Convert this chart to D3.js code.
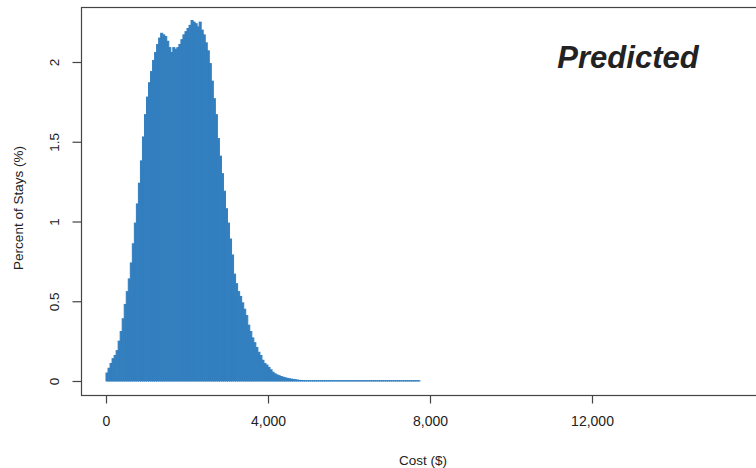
<!DOCTYPE html>
<html>
<head>
<meta charset="utf-8">
<script src="https://cdn.jsdelivr.net/npm/d3@7"></script>
<style>
  html, body { margin: 0; padding: 0; background: #fff; }
  text { font-family: "Liberation Sans", Arial, sans-serif; }
</style>
</head>
<body>
<svg id="chart" width="756" height="468"></svg>
<script>
// ---- data ----
const binWidth = 50; // $ per bin
const percentOfStays = [
  0.05, 0.08, 0.11, 0.14, 0.16, 0.19, 0.25, 0.31, 0.39, 0.48,
  0.56, 0.64, 0.74, 0.86, 0.99, 1.11, 1.24, 1.38, 1.53, 1.67,
  1.78, 1.87, 1.94, 2.01, 2.06, 2.11, 2.15, 2.18, 2.17, 2.16,
  2.13, 2.09, 2.06, 2.09, 2.08, 2.09, 2.11, 2.14, 2.17, 2.19,
  2.21, 2.23, 2.26, 2.25, 2.24, 2.22, 2.25, 2.20, 2.17, 2.12,
  2.07, 1.99, 1.88, 1.77, 1.67, 1.52, 1.41, 1.30, 1.19, 1.08,
  0.99, 0.89, 0.79, 0.67, 0.61, 0.56, 0.53, 0.49, 0.45, 0.41,
  0.35, 0.31, 0.27, 0.24, 0.21, 0.18, 0.16, 0.13, 0.11, 0.10,
  0.085, 0.07, 0.055, 0.045, 0.038, 0.033, 0.028, 0.024, 0.020, 0.017,
  0.014, 0.012, 0.010, 0.008, 0.006, 0.004, 0.003, 0.003, 0.002, 0.002,
  0.002, 0.002, 0.002, 0.002, 0.002, 0.002, 0.002, 0.002, 0.002, 0.002,
  0.002, 0.002, 0.002, 0.002, 0.002, 0.002, 0.002, 0.002, 0.002, 0.002,
  0.002, 0.002, 0.002, 0.002, 0.002, 0.002, 0.002, 0.002, 0.002, 0.002,
  0.002, 0.002, 0.002, 0.002, 0.002, 0.002, 0.002, 0.002, 0.002, 0.002,
  0.002, 0.002, 0.002, 0.002, 0.002, 0.002, 0.002, 0.002, 0.002, 0.002,
  0.002, 0.002, 0.002, 0.002, 0.002
];
const binStarts = d3.range(percentOfStays.length).map(i => i * binWidth);
const xTicks = [0, 4000, 8000, 12000];
const xTickLabels = ["0", "4,000", "8,000", "12,000"];
const yTicks = [0, 0.5, 1, 1.5, 2];
const yTickLabels = ["0", "0.5", "1", "1.5", "2"];
const title = "Predicted";
const xTitle = "Cost ($)";
const yTitle = "Percent of Stays (%)";

// ---- layout ----
const svg = d3.select("#chart");
const box = { left: 81.5, top: 7.5, right: 800, bottom: 395.5 };
const x = d3.scaleLinear().domain([0, 12000]).range([106, 592]);
const y = d3.scaleLinear().domain([0, 2]).range([381, 62]);
const barColor = "#337fbf";

// bars
svg.append("g").selectAll("rect")
  .data(percentOfStays)
  .join("rect")
  .attr("x", (d, i) => x(binStarts[i]))
  .attr("width", (d, i) => x(binStarts[i] + binWidth) - x(binStarts[i]))
  .attr("y", d => y(d))
  .attr("height", d => y(0) - y(d))
  .attr("fill", barColor)
  .attr("stroke", barColor)
  .attr("stroke-width", 1);

// box
svg.append("rect")
  .attr("x", box.left).attr("y", box.top)
  .attr("width", box.right - box.left).attr("height", box.bottom - box.top)
  .attr("fill", "none").attr("stroke", "#444").attr("stroke-width", 1.2);

// x axis
const xAxis = d3.axisBottom(x)
  .tickValues(xTicks)
  .tickFormat((d, i) => xTickLabels[i])
  .tickSizeInner(8).tickSizeOuter(0).tickPadding(13);
const gx = svg.append("g").attr("transform", `translate(0,${box.bottom})`).call(xAxis);
gx.select(".domain").remove();
gx.selectAll("line").attr("stroke", "#444").attr("stroke-width", 1.2);
gx.selectAll("text").attr("font-size", 14).attr("fill", "#222");

// y axis
const yAxis = d3.axisLeft(y)
  .tickValues(yTicks)
  .tickFormat((d, i) => yTickLabels[i])
  .tickSizeInner(9).tickSizeOuter(0);
const gy = svg.append("g").attr("transform", `translate(${box.left},0)`).call(yAxis);
gy.select(".domain").remove();
gy.selectAll("line").attr("stroke", "#444").attr("stroke-width", 1.2);
gy.selectAll("text")
  .attr("x", null).attr("dy", null)
  .attr("text-anchor", "middle")
  .attr("transform", "translate(-23,0) rotate(-90)")
  .attr("font-size", 13.5).attr("fill", "#222");

// axis titles
svg.append("text")
  .attr("x", 423).attr("y", 465)
  .attr("text-anchor", "middle")
  .attr("font-size", 13.5).attr("fill", "#222")
  .text(xTitle);
svg.append("text")
  .attr("transform", "translate(23,208) rotate(-90)")
  .attr("text-anchor", "middle")
  .attr("font-size", 13.5).attr("fill", "#222")
  .text(yTitle);

// panel title
svg.append("text")
  .attr("x", 628).attr("y", 68)
  .attr("text-anchor", "middle")
  .attr("font-size", 31).attr("font-weight", "bold").attr("font-style", "italic")
  .attr("fill", "#222")
  .text(title);
</script>
</body>
</html>
